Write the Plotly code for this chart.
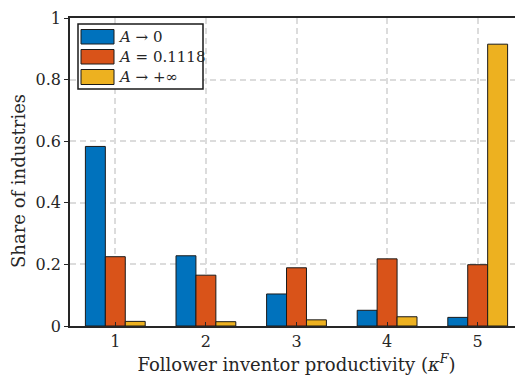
import plotly.graph_objects as go

categories = [1, 2, 3, 4, 5]
series_names = ["<i>A</i> → 0", "<i>A</i> = 0.1118", "<i>A</i> → +∞"]
a_zero = [0.583, 0.228, 0.104, 0.051, 0.028]
a_mid = [0.225, 0.165, 0.189, 0.218, 0.199]
a_inf = [0.015, 0.014, 0.020, 0.030, 0.915]
colors = ["#0072BD", "#D95319", "#EDB120"]
y_ticks = [0, 0.2, 0.4, 0.6, 0.8, 1]
y_tick_labels = ["0", "0.2", "0.4", "0.6", "0.8", "1"]

# page has an 8px body margin; figure sized to fill the visible window
W, H = 515, 371
L, R, T, B = 62, 0, 10, 53
FONT = "DejaVu Serif"

fig = go.Figure()
for name, vals, c in zip(series_names, [a_zero, a_mid, a_inf], colors):
    fig.add_trace(go.Bar(x=categories, y=vals, name=name, marker=dict(color=c, line=dict(color="#1a1a1a", width=1)),
                         showlegend=False))

fig.update_layout(
    width=W, height=H, margin=dict(l=L, r=R, t=T, b=B, autoexpand=False),
    plot_bgcolor="white", paper_bgcolor="white",
    barmode="group", bargap=0.34, bargroupgap=0,
    font=dict(family=FONT, size=15, color="#262626"),
)
fig.update_xaxes(range=[0.5, 5.5], tickvals=categories, ticktext=[str(c) for c in categories],
                 showgrid=True, gridcolor="#dcdcdc", griddash="6px,4px", gridwidth=1.5,
                 showline=True, linecolor="#262626", linewidth=1.5, mirror=True,
                 ticks="inside", ticklen=4, tickcolor="#262626", automargin=False,
                 tickfont=dict(size=16), ticklabeloverflow="allow",
                 title=dict(text="Follower inventor productivity (<i>κ</i><sup><i>F</i></sup>)", font=dict(size=18), standoff=4),
                 zeroline=False)
fig.update_yaxes(range=[0, 1], tickvals=y_ticks, ticktext=y_tick_labels,
                 showgrid=True, gridcolor="#dcdcdc", griddash="6px,4px", gridwidth=1.5,
                 showline=True, linecolor="#262626", linewidth=1.5, mirror=True,
                 ticks="outside", ticklen=4, tickcolor="#262626", automargin=False,
                 tickfont=dict(size=16), ticklabeloverflow="allow",
                 zeroline=False)

pw, ph = W - L - R, H - T - B
# convert screenshot pixel positions (which include the 8px page offset) to paper coords
def px(x):
    return (x - 8 - L) / pw
def py(y):
    return (H - B - (y - 8)) / ph

# y-axis title as annotation for precise placement
fig.add_annotation(xref="paper", yref="paper", x=px(18), y=py(181), text="Share of industries",
                   textangle=-90, showarrow=False, xanchor="center", yanchor="middle",
                   font=dict(size=18, family=FONT))

# Manual legend (box + swatches + labels)
fig.add_shape(type="rect", xref="paper", yref="paper", x0=px(78), x1=px(203), y0=py(89), y1=py(24),
              fillcolor="white", line=dict(color="#1a1a1a", width=1.5), layer="above")
rows = [(29.5, 44), (49.5, 64), (69.5, 84.5)]
for (y0, y1), c, name in zip(rows, colors, series_names):
    fig.add_shape(type="rect", xref="paper", yref="paper", x0=px(81), x1=px(114), y0=py(y1), y1=py(y0),
                  fillcolor=c, line=dict(color="#1a1a1a", width=1), layer="above")
    fig.add_annotation(xref="paper", yref="paper", x=px(116), y=py((y0 + y1) / 2), text=name,
                       showarrow=False, xanchor="left", yanchor="middle", font=dict(size=15, family=FONT))

fig.write_html("out.html")
